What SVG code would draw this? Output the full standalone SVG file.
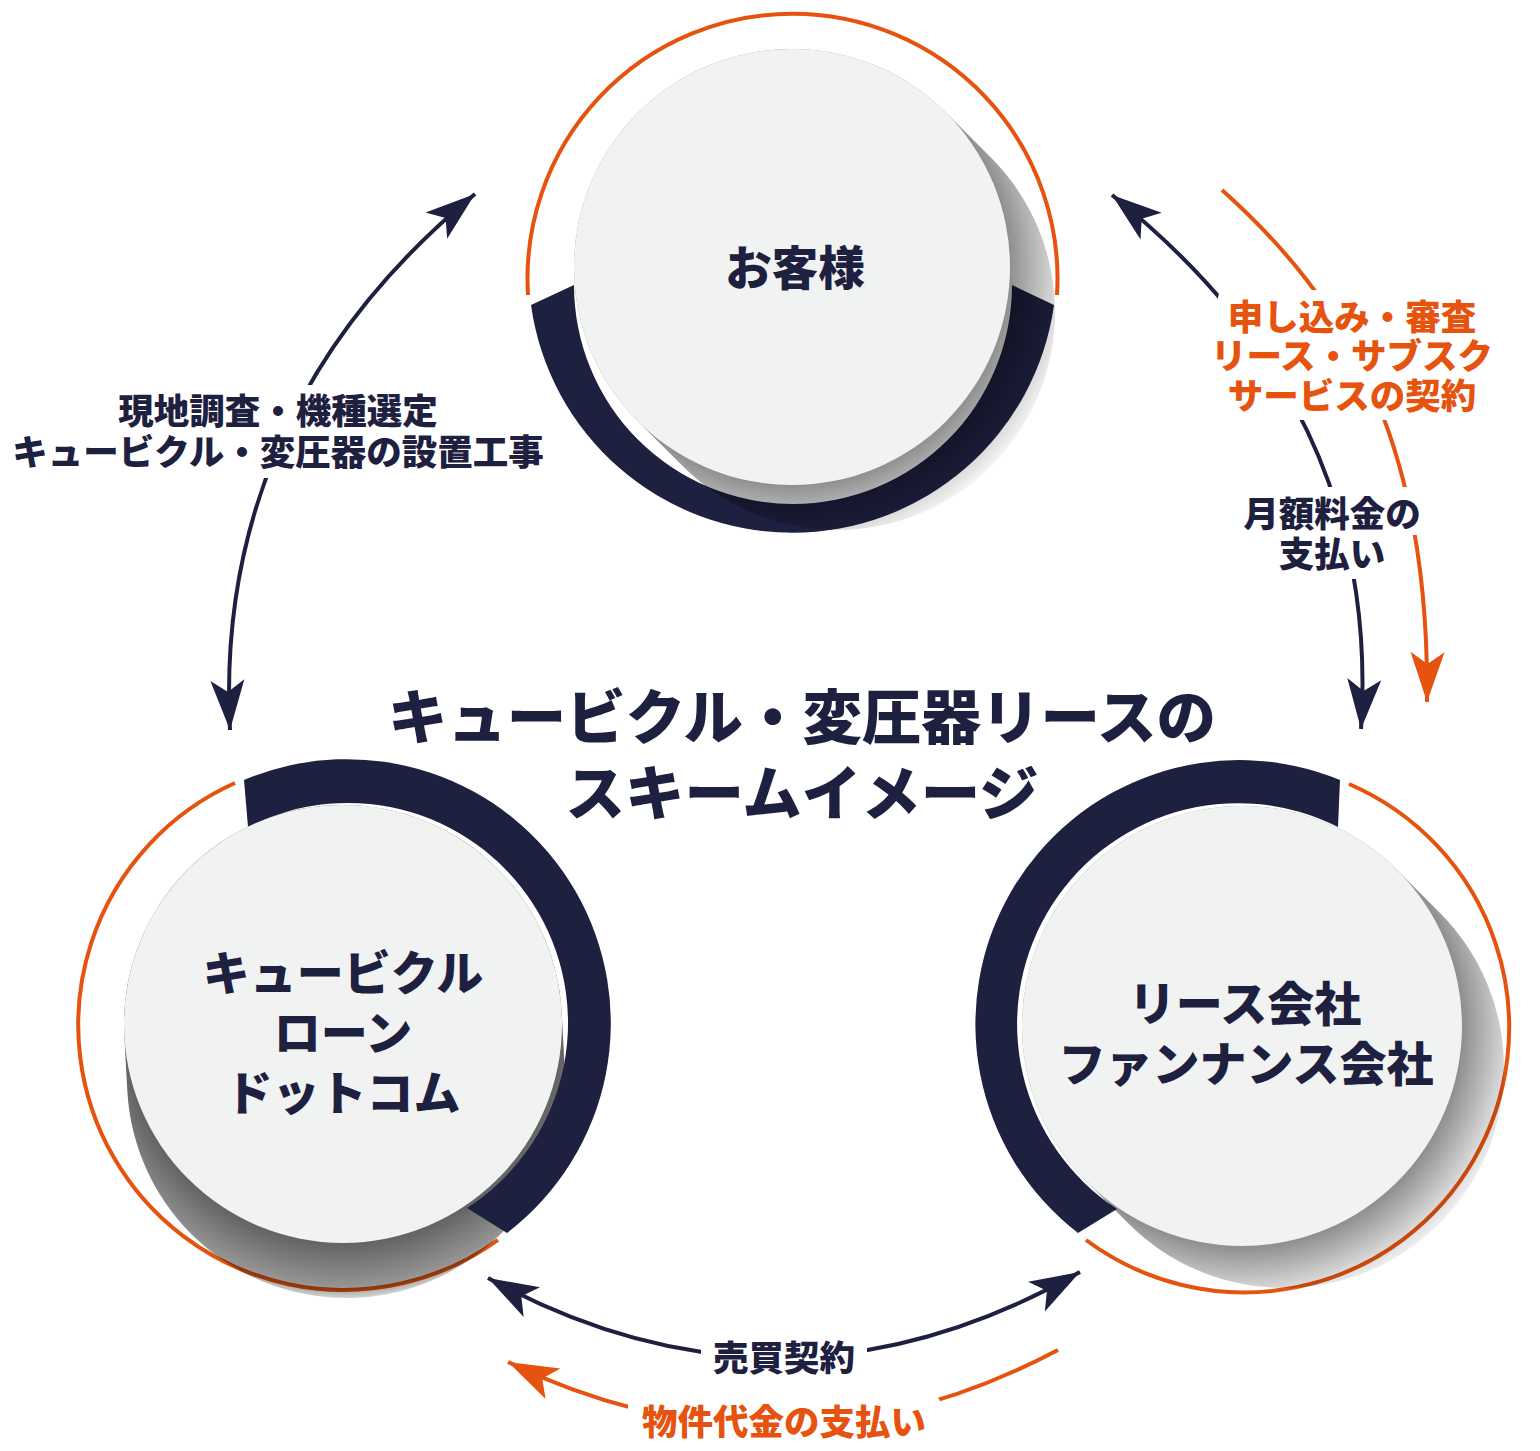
<svg xmlns="http://www.w3.org/2000/svg" width="1540" height="1451" viewBox="0 0 1540 1451">
<style>
.orng{fill:none;stroke:#e5530f;stroke-width:4}
.band{fill:#1e2040}
.disc{fill:#f1f2f2}
.ntxt{font-family:"Noto Sans CJK JP","Noto Sans",sans-serif;font-weight:900;fill:#1e2040;text-anchor:middle}
.title{font-family:"Noto Sans CJK JP","Noto Sans",sans-serif;font-weight:900;fill:#1e2040;text-anchor:middle;font-size:59.5px}
.lbl{font-family:"Noto Sans CJK JP","Noto Sans",sans-serif;font-weight:900;font-size:35.5px;text-anchor:middle}
.ln{fill:#1e2040}
.lo{fill:#e5530f}
.halo{fill:#ffffff}
.cn{fill:none;stroke:#1e2040;stroke-width:4}
.co{fill:none;stroke:#e5530f;stroke-width:4}
</style>
<defs>
<marker id="ahN" markerUnits="userSpaceOnUse" markerWidth="60" markerHeight="40" viewBox="-55 -20 60 40" refX="0" refY="0" orient="auto-start-reverse" overflow="visible">
<path d="M0,0 L-50,-17 L-38,0 L-50,17 Z" fill="#1e2040"/>
</marker>
<marker id="ahO" markerUnits="userSpaceOnUse" markerWidth="60" markerHeight="40" viewBox="-55 -20 60 40" refX="0" refY="0" orient="auto-start-reverse" overflow="visible">
<path d="M0,0 L-50,-17 L-38,0 L-50,17 Z" fill="#e5530f"/>
</marker>
<radialGradient id="shT" gradientUnits="userSpaceOnUse" cx="792" cy="267" r="288">
<stop offset="0.75" stop-color="#000" stop-opacity="0.45"/>
<stop offset="1" stop-color="#000" stop-opacity="0"/>
</radialGradient>
<radialGradient id="shL" gradientUnits="userSpaceOnUse" cx="343" cy="1024" r="282">
<stop offset="0.77" stop-color="#000" stop-opacity="0.62"/>
<stop offset="0.93" stop-color="#000" stop-opacity="0.42"/>
<stop offset="1" stop-color="#000" stop-opacity="0"/>
</radialGradient>
<radialGradient id="shR" gradientUnits="userSpaceOnUse" cx="1242" cy="1026" r="288">
<stop offset="0.76" stop-color="#000" stop-opacity="0.45"/>
<stop offset="1" stop-color="#000" stop-opacity="0"/>
</radialGradient>
</defs>
<rect width="1540" height="1451" fill="#ffffff"/>

<g id="node-customer">
<path class="orng" d="M528,295 A265,265 0 1 1 1057,295"/>
<path class="band" d="M531,305 A264,264 0 0 0 1054,305 L1012,285 A218,218 0 0 1 574,285 Z"/>
<line x1="792" y1="267" x2="837" y2="312" stroke="url(#shT)" stroke-width="436" stroke-linecap="round"/>
<circle class="disc" cx="792" cy="267" r="218"/>
<text class="ntxt" x="795" y="285" font-size="46.5">お客様</text>
</g>

<g id="node-cubicle">
<path class="orng" d="M235,783 A265,265 0 1 0 498,1240"/>
<line x1="343" y1="1024" x2="346" y2="1079" stroke="url(#shL)" stroke-width="438" stroke-linecap="round"/>
<path class="band" d="M244,780 A264,264 0 0 1 507,1233 L467,1208 A220,220 0 0 0 248,827 Z"/>
<circle class="disc" cx="343" cy="1024" r="219"/>
<text class="ntxt" font-size="47"><tspan x="343" y="990">キュービクル</tspan><tspan x="343" y="1050">ローン</tspan><tspan x="343" y="1110">ドットコム</tspan></text>
</g>

<g id="node-lease">
<path class="orng" d="M1349,784 A265,265 0 1 1 1086,1240"/>
<path class="band" d="M1340,780 A264,264 0 0 0 1078,1233 L1117,1209 A221,221 0 0 1 1338,827 Z"/>
<line x1="1242" y1="1026" x2="1284" y2="1068" stroke="url(#shR)" stroke-width="440" stroke-linecap="round"/>
<circle class="disc" cx="1242" cy="1026" r="220"/>
<text class="ntxt" font-size="47"><tspan x="1245" y="1021">リース会社</tspan><tspan x="1246" y="1081">ファンナンス会社</tspan></text>
</g>

<g id="title">
<text class="title"><tspan x="802" y="739">キュービクル・変圧器リースの</tspan><tspan x="802" y="815">スキームイメージ</tspan></text>
</g>

<g id="connectors">
<path class="cn" d="M230,730 C220,540 285,350 475,194" marker-start="url(#ahN)" marker-end="url(#ahN)"/>
<path class="co" d="M1222,190 C1345,300 1430,440 1427,702" marker-end="url(#ahO)"/>
<path class="cn" d="M1112,195 C1250,305 1378,470 1361,729" marker-start="url(#ahN)" marker-end="url(#ahN)"/>
<path class="cn" d="M488,1278 Q783,1440 1080,1272" marker-start="url(#ahN)" marker-end="url(#ahN)"/>
<path class="co" d="M1058,1350 Q783,1495 508,1362" marker-end="url(#ahO)"/>
<rect class="halo" x="108" y="385" width="340" height="48" rx="8"/>
<rect class="halo" x="2" y="426" width="552" height="52" rx="8"/>
<rect class="halo" x="1218" y="290" width="268" height="48" rx="8"/>
<rect class="halo" x="1200" y="330" width="304" height="48" rx="8"/>
<rect class="halo" x="1218" y="370" width="268" height="50" rx="8"/>
<rect class="halo" x="1233" y="487" width="198" height="48" rx="8"/>
<rect class="halo" x="1269" y="527" width="126" height="52" rx="8"/>
<rect class="halo" x="701" y="1331" width="166" height="50" rx="8"/>
<rect class="halo" x="628" y="1395" width="312" height="52" rx="8"/>
<text class="lbl ln"><tspan x="278" y="424">現地調査・機種選定</tspan><tspan x="278" y="465">キュービクル・変圧器の設置工事</tspan></text>
<text class="lbl lo"><tspan x="1352" y="330">申し込み・審査</tspan><tspan x="1352" y="369">リース・サブスク</tspan><tspan x="1352" y="409">サービスの契約</tspan></text>
<text class="lbl ln"><tspan x="1332" y="527">月額料金の</tspan><tspan x="1332" y="567">支払い</tspan></text>
<text class="lbl ln" x="784" y="1371">売買契約</text>
<text class="lbl lo" x="784" y="1435">物件代金の支払い</text>
</g>
</svg>
